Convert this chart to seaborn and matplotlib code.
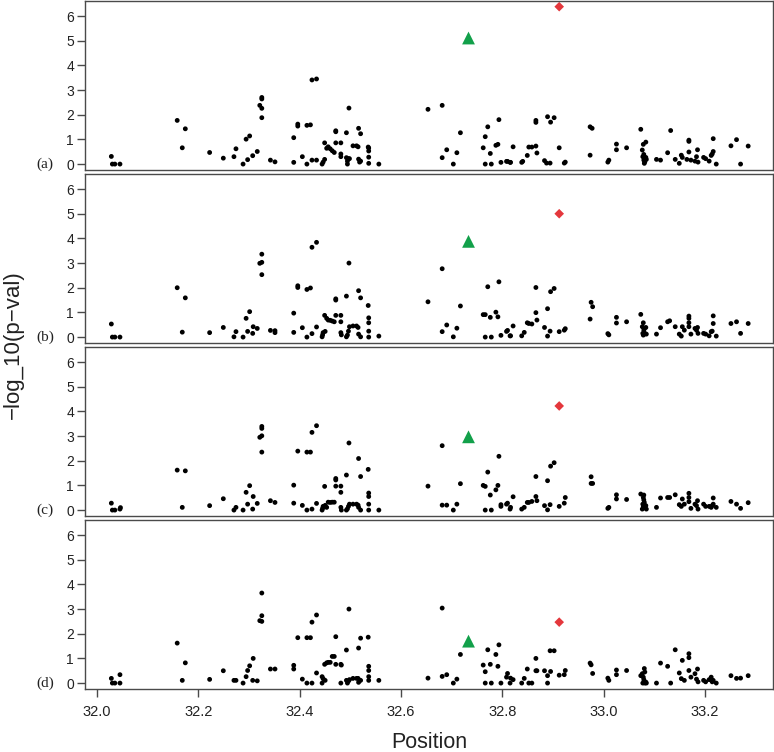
import matplotlib
matplotlib.use("Agg")
import matplotlib.pyplot as plt
import matplotlib.transforms as mtransforms
import seaborn as sns
import pandas as pd

# ---------------- data ----------------
pos_a = [32.028, 32.030, 32.035, 32.045, 32.158, 32.174, 32.168, 32.222, 32.249, 32.270,
         32.274, 32.288, 32.294, 32.301, 32.297, 32.307, 32.316, 32.321, 32.325, 32.325,
         32.325, 32.325, 32.342, 32.351, 32.388, 32.388, 32.396, 32.396, 32.405, 32.414,
         32.414, 32.421, 32.424, 32.424, 32.433, 32.433, 32.444, 32.446, 32.449, 32.449,
         32.453, 32.456, 32.460, 32.464, 32.468, 32.471, 32.471, 32.471, 32.481, 32.481,
         32.481, 32.492, 32.492, 32.494, 32.494, 32.496, 32.498, 32.497, 32.505, 32.512,
         32.515, 32.516, 32.520, 32.516, 32.520, 32.518, 32.535, 32.536, 32.536, 32.536,
         32.536, 32.556,
         32.653, 32.681, 32.681, 32.690, 32.703, 32.710, 32.717, 32.762, 32.766, 32.766,
         32.778, 32.771, 32.776, 32.787, 32.791, 32.793, 32.797, 32.808, 32.810, 32.815,
         32.816, 32.821, 32.838, 32.840, 32.849, 32.852, 32.858, 32.866, 32.866, 32.866,
         32.868, 32.883, 32.887, 32.894, 32.889, 32.895, 32.902, 32.912, 32.922, 32.924,
         32.973, 32.977, 32.973, 33.008, 33.010, 33.025, 33.025, 33.045, 33.073, 33.076,
         33.077, 33.078, 33.079, 33.080, 33.079, 33.081, 33.083, 33.083, 33.084, 33.080,
         33.104, 33.112, 33.126, 33.132, 33.141, 33.149, 33.153, 33.155, 33.164, 33.168,
         33.168, 33.168, 33.172, 33.180, 33.183, 33.185, 33.186, 33.197, 33.201, 33.208,
         33.212, 33.214, 33.216, 33.216, 33.222, 33.251, 33.262, 33.270, 33.285]
val_a = [0.31, 0, 0, 0, 1.77, 1.43, 0.66, 0.47, 0.24, 0.30,
         0.62, 0, 1.01, 1.14, 0.18, 0.34, 0.51, 2.38, 2.70, 2.64,
         2.26, 1.88, 0.16, 0.09, 0.07, 1.07, 1.62, 1.54, 0.30, 0,
         1.57, 1.59, 3.41, 0.16, 3.45, 0.16, 0, 0.08, 0.86, 0.19,
         0.64, 0.70, 0.62, 0.54, 0.47, 1.31, 1.35, 0.86, 0.86, 0.41,
         0.30, 1.27, 0.26, 0.12, 0, 0.22, 0.22, 2.27, 0.74, 0.74,
         0.70, 1.45, 1.23, 0.20, 0.12, 0.08, 0.69, 0.65, 0.53, 0.28,
         0.03, 0,
         2.22, 2.38, 0.26, 0.58, 0, 0.46, 1.27, 0.66, 1.11, 0,
         0, 1.51, 0.43, 0.76, 0.80, 1.80, 0.07, 0.11, 0.11, 0.07,
         0.07, 0.70, 0.07, 0.11, 0.35, 0.69, 0.69, 0.73, 1.77, 1.69,
         0.45, 0.14, 0.04, 0.04, 1.92, 1.70, 1.88, 0.66, 0.04, 0.08,
         1.51, 1.45, 0.36, 0.08, 0.16, 0.81, 0.58, 0.66, 1.41, 0.57,
         0.30, 0.80, 0.39, 0.23, 0.16, 0.09, 0.89, 0.27, 0.19, 0.03,
         0.19, 0.16, 0.46, 1.36, 0.19, 0.03, 0.36, 0.27, 0.19, 0.97,
         0.92, 0.49, 0.16, 0.12, 0.30, 0.58, 0.08, 0.27, 0.22, 0.12,
         0.35, 0.41, 1.03, 0.51, 0, 0.74, 0.99, 0, 0.73]

pos_b = [32.028, 32.030, 32.035, 32.045, 32.158, 32.174, 32.168, 32.222, 32.249, 32.270,
         32.274, 32.288, 32.294, 32.301, 32.297, 32.307, 32.308, 32.316, 32.321, 32.325,
         32.325, 32.325, 32.342, 32.351, 32.351, 32.388, 32.388, 32.396, 32.396, 32.405,
         32.414, 32.414, 32.421, 32.424, 32.424, 32.433, 32.433, 32.444, 32.445, 32.446,
         32.449, 32.450, 32.453, 32.456, 32.460, 32.464, 32.468, 32.471, 32.471, 32.471,
         32.481, 32.481, 32.481, 32.482, 32.492, 32.492, 32.494, 32.496, 32.498, 32.497,
         32.505, 32.512, 32.515, 32.516, 32.520, 32.516, 32.520, 32.535, 32.536, 32.536,
         32.536, 32.536, 32.556,
         32.653, 32.681, 32.681, 32.690, 32.703, 32.710, 32.717, 32.762, 32.766, 32.766,
         32.778, 32.771, 32.776, 32.787, 32.791, 32.793, 32.797, 32.808, 32.810, 32.815,
         32.816, 32.821, 32.838, 32.843, 32.849, 32.852, 32.858, 32.866, 32.866, 32.868,
         32.883, 32.889, 32.889, 32.894, 32.895, 32.902, 32.912, 32.922, 32.924, 32.975,
         32.978, 32.973, 33.008, 33.010, 33.025, 33.025, 33.045, 33.073, 33.076, 33.077,
         33.078, 33.079, 33.080, 33.081, 33.083, 33.084, 33.078, 33.104, 33.112, 33.126,
         33.130, 33.141, 33.149, 33.153, 33.155, 33.159, 33.168, 33.168, 33.168, 33.168,
         33.172, 33.180, 33.183, 33.185, 33.186, 33.197, 33.201, 33.208, 33.212, 33.214,
         33.216, 33.216, 33.222, 33.251, 33.262, 33.270, 33.285]
val_b = [0.53, 0, 0, 0, 2.00, 1.59, 0.20, 0.18, 0.39, 0.01,
         0.22, 0, 0.76, 1.03, 0.23, 0.15, 0.42, 0.35, 2.99, 3.03,
         3.36, 2.53, 0.27, 0.26, 0.18, 0.19, 0.97, 2.08, 2.01, 0.38,
         0, 1.93, 1.99, 3.64, 0.14, 3.84, 0.41, 0.01, 0.09, 0.18,
         0.88, 0.23, 0.76, 0.69, 0.68, 0.65, 0.62, 1.55, 1.50, 0.88,
         0.88, 0.62, 0.18, 0.09, 1.66, 0.01, 0.08, 0.24, 0.42, 3.00,
         0.45, 0.45, 0.39, 1.88, 1.59, 0.12, 0.01, 1.28, 0.78, 0.58,
         0.24, 0, 0.04,
         1.43, 2.77, 0.22, 0.49, 0.01, 0.36, 1.26, 0.91, 0.91, 0,
         0, 2.04, 0.80, 1.01, 0.82, 2.24, 0.07, 0.23, 0.27, 0.05,
         0.05, 0.45, 0.05, 0.19, 0.58, 0.55, 0.53, 2.01, 0.99, 0.69,
         0.39, 0.04, 1.15, 0.24, 1.84, 1.97, 0.22, 0.28, 0.34, 1.41,
         1.23, 0.73, 0.14, 0.09, 0.80, 0.57, 0.62, 0.92, 0.42, 0.15,
         0.58, 0.28, 0.35, 0.15, 0.39, 0.12, 0.08, 0.12, 0.38, 0.62,
         0.66, 0.42, 0.12, 0.04, 0.42, 0.28, 0.85, 0.76, 0.58, 0.42,
         0.12, 0.35, 0.28, 0.39, 0.15, 0.15, 0.12, 0.05, 0.22, 0.24,
         0.86, 0.55, 0.04, 0.55, 0.62, 0.15, 0.55]

pos_c = [32.028, 32.030, 32.035, 32.045, 32.046, 32.158, 32.174, 32.168, 32.222, 32.249,
         32.270, 32.274, 32.288, 32.294, 32.301, 32.297, 32.307, 32.308, 32.316, 32.321,
         32.325, 32.325, 32.325, 32.325, 32.342, 32.351, 32.388, 32.388, 32.396, 32.405,
         32.414, 32.414, 32.421, 32.424, 32.424, 32.433, 32.433, 32.444, 32.445, 32.446,
         32.449, 32.450, 32.453, 32.456, 32.460, 32.464, 32.468, 32.471, 32.471, 32.471,
         32.481, 32.481, 32.481, 32.482, 32.492, 32.492, 32.494, 32.496, 32.498, 32.497,
         32.505, 32.512, 32.515, 32.516, 32.520, 32.516, 32.520, 32.535, 32.536, 32.536,
         32.536, 32.536, 32.556,
         32.653, 32.681, 32.681, 32.690, 32.703, 32.710, 32.717, 32.762, 32.766, 32.766,
         32.778, 32.771, 32.776, 32.787, 32.791, 32.793, 32.797, 32.797, 32.808, 32.810,
         32.815, 32.816, 32.821, 32.838, 32.843, 32.849, 32.852, 32.858, 32.866, 32.866,
         32.868, 32.883, 32.889, 32.889, 32.894, 32.895, 32.902, 32.912, 32.922, 32.924,
         32.975, 32.975, 32.978, 33.008, 33.010, 33.025, 33.025, 33.045, 33.073, 33.076,
         33.077, 33.078, 33.079, 33.080, 33.081, 33.083, 33.084, 33.078, 33.079, 33.104,
         33.112, 33.126, 33.130, 33.141, 33.149, 33.153, 33.155, 33.159, 33.168, 33.168,
         33.168, 33.172, 33.180, 33.183, 33.185, 33.186, 33.197, 33.201, 33.208, 33.212,
         33.214, 33.216, 33.216, 33.222, 33.251, 33.262, 33.270, 33.285]
val_c = [0.28, 0, 0, 0.04, 0.10, 1.62, 1.59, 0.11, 0.18, 0.46,
         0, 0.11, 0, 0.72, 0.99, 0.24, 0.04, 0.55, 0.27, 2.95,
         3.01, 3.39, 3.31, 2.35, 0.38, 0.31, 0.28, 1.01, 2.39, 0.19,
         0, 2.35, 2.35, 3.15, 0.04, 3.42, 0.27, 0, 0.07, 0.15,
         0.96, 0.19, 0.11, 0.32, 0.31, 0.32, 0.32, 1.28, 1.22, 0.97,
         0.97, 0.72, 0.11, 0, 1.42, 0, 0.05, 0.15, 0.24, 2.72,
         0.24, 0.24, 0.20, 2.09, 1.36, 0.11, 0, 1.65, 0.69, 0.55,
         0.24, 0, 0,
         0.97, 2.61, 0.20, 0.20, 0, 0.24, 1.07, 1.00, 0.96, 0,
         0, 1.54, 0.61, 0.82, 1.00, 2.18, 0.15, 0.22, 0.24, 0.28,
         0.04, 0.11, 0.54, 0.04, 0.11, 0.31, 0.31, 0.35, 1.36, 0.55,
         0.38, 0.18, 0.01, 1.19, 0.22, 1.78, 1.92, 0.15, 0.28, 0.51,
         1.35, 1.08, 1.08, 0.07, 0.11, 0.62, 0.45, 0.43, 0.65, 0.04,
         0.24, 0.51, 0.41, 0.31, 0.11, 0.18, 0.04, 0.14, 0.61, 0.11,
         0.49, 0.51, 0.51, 0.62, 0.22, 0.15, 0.45, 0.24, 0.68, 0.51,
         0.34, 0.07, 0.24, 0.18, 0.38, 0.04, 0.24, 0.15, 0.15, 0.11,
         0.18, 0.49, 0.24, 0.11, 0.35, 0.24, 0.07, 0.30]

pos_d = [32.028, 32.030, 32.035, 32.045, 32.045, 32.158, 32.174, 32.168, 32.222, 32.249,
         32.270, 32.274, 32.288, 32.294, 32.297, 32.301, 32.307, 32.308, 32.316, 32.321,
         32.325, 32.325, 32.325, 32.342, 32.351, 32.388, 32.388, 32.396, 32.405, 32.414,
         32.414, 32.421, 32.424, 32.424, 32.433, 32.433, 32.444, 32.444, 32.446, 32.449,
         32.450, 32.453, 32.456, 32.460, 32.464, 32.468, 32.471, 32.471, 32.481, 32.482,
         32.481, 32.492, 32.492, 32.494, 32.496, 32.498, 32.497, 32.505, 32.512, 32.515,
         32.516, 32.520, 32.516, 32.520, 32.535, 32.536, 32.536, 32.536, 32.536, 32.556,
         32.653, 32.681, 32.681, 32.690, 32.703, 32.710, 32.717, 32.762, 32.766, 32.766,
         32.778, 32.771, 32.776, 32.787, 32.791, 32.793, 32.797, 32.808, 32.810, 32.815,
         32.816, 32.821, 32.838, 32.843, 32.849, 32.852, 32.858, 32.866, 32.866, 32.868,
         32.883, 32.889, 32.889, 32.894, 32.902, 32.895, 32.912, 32.922, 32.924, 32.973,
         32.975, 32.978, 33.008, 33.010, 33.025, 33.025, 33.045, 33.073, 33.076, 33.077,
         33.078, 33.079, 33.080, 33.081, 33.083, 33.084, 33.081, 33.104, 33.112, 33.126,
         33.132, 33.141, 33.149, 33.153, 33.155, 33.159, 33.168, 33.168, 33.168, 33.172,
         33.180, 33.183, 33.185, 33.186, 33.197, 33.201, 33.208, 33.212, 33.214, 33.216,
         33.222, 33.251, 33.262, 33.270, 33.285]
val_d = [0.19, 0, 0, 0, 0.34, 1.62, 0.82, 0.11, 0.15, 0.50,
         0.11, 0.11, 0, 0.26, 0.51, 0.70, 0.11, 1.00, 0.09, 2.53,
         2.50, 3.65, 2.73, 0.57, 0.57, 0.72, 0.57, 1.84, 0.16, 0,
         1.84, 1.84, 2.47, 0, 2.76, 0.41, 0, 0.26, 0.18, 0.76,
         0.11, 0.82, 0.84, 0.84, 1.08, 1.08, 1.88, 0.76, 0.76, 0.73,
         0, 1.34, 0.11, 0, 0.08, 0.14, 3.00, 0.19, 0.19, 0.19,
         1.42, 1.82, 0.03, 0.11, 1.86, 0.68, 0.51, 0.26, 0.11, 0.11,
         0.20, 3.04, 0.27, 0.34, 0, 0.16, 1.16, 0.73, 0.46, 0,
         0, 1.35, 0.76, 1.16, 0.68, 1.55, 0, 0.24, 0.39, 0,
         0.20, 0.14, 0, 0.19, 0.57, 0, 0, 1.00, 0.50, 0.50,
         0.50, 0, 0.30, 1.31, 1.31, 0.47, 0.32, 0.34, 0.51, 0.81,
         0.74, 0.39, 0.20, 0.11, 0.53, 0.34, 0.51, 0.30, 0.38, 0,
         0.24, 0.14, 0.59, 0, 0.04, 0, 0.45, 0, 0.81, 0.68,
         0, 1.35, 0.41, 0.18, 0.92, 0.11, 1.19, 1.03, 0.51, 0.24,
         0.38, 0.16, 0.57, 0.05, 0.11, 0.05, 0.14, 0.24, 0.05, 0.11,
         0, 0.30, 0.19, 0.20, 0.30]

panel_labels = ["(a)", "(b)", "(c)", "(d)"]
lead_pos = 32.733                      # green triangle SNP
lead_vals = [5.11, 3.88, 2.97, 1.70]
top_pos = 32.912                       # red diamond SNP
top_vals = [6.38, 5.00, 4.22, 2.47]
x_ticks = [32.0, 32.2, 32.4, 32.6, 32.8, 33.0, 33.2]
x_tick_labels = ["32.0", "32.2", "32.4", "32.6", "32.8", "33.0", "33.2"]
y_ticks = [0, 1, 2, 3, 4, 5, 6]

# ---------------- drawing ----------------
sns.set_style("ticks")
plt.rcParams['font.family'] = ['Liberation Sans', 'DejaVu Sans']

W, H = 774, 752
fig = plt.figure(figsize=(W / 100, H / 100), dpi=100)

all_pos = [pos_a, pos_b, pos_c, pos_d]
all_val = [val_a, val_b, val_c, val_d]
tops = [1, 174, 347, 520]
ph = 169
left_px, right_px = 85, 773
spine_col = "#4a4a4a"

for i in range(4):
    ax = fig.add_axes([left_px / W, 1 - (tops[i] + ph) / H,
                       (right_px - left_px) / W, ph / H])
    df = pd.DataFrame({"Position": all_pos[i], "logp": all_val[i]})
    sns.scatterplot(data=df, x="Position", y="logp", ax=ax, color="black",
                    s=12, edgecolor="none", linewidth=0, legend=False)
    sns.scatterplot(x=[lead_pos], y=[lead_vals[i]], ax=ax, marker="^",
                    color="#12a04a", s=85, edgecolor="none", linewidth=0, legend=False)
    sns.scatterplot(x=[top_pos], y=[top_vals[i]], ax=ax, marker="D",
                    color="#e4373c", s=24, edgecolor="none", linewidth=0, legend=False)
    ax.set_xlim(31.976, 33.334)
    ax.set_ylim(-0.24, 6.61)
    ax.set_yticks(y_ticks)
    ax.set_yticklabels([str(t) for t in y_ticks])
    ax.set_xticks(x_ticks)
    ax.set_xlabel("")
    ax.set_ylabel("")
    for sp in ax.spines.values():
        sp.set_visible(True)
        sp.set_color(spine_col)
        sp.set_linewidth(1.0)
    ax.tick_params(axis="y", direction="out", length=5.5, width=1.0,
                   color=spine_col, labelsize=10, pad=2.5, labelcolor="#222222")
    if i < 3:
        ax.tick_params(axis="x", bottom=False, labelbottom=False)
    else:
        ax.set_xticklabels(x_tick_labels)
        ax.tick_params(axis="x", direction="out", length=5.5, width=1.0,
                       color=spine_col, labelsize=10.5, pad=6, labelcolor="#222222")
    trans = mtransforms.blended_transform_factory(ax.transAxes, ax.transData)
    ax.text(-0.058, 0, panel_labels[i], transform=trans, ha="center", va="center",
            fontsize=11, family=["Liberation Serif", "DejaVu Serif"], color="#222222")

fig.text(13 / W, 1 - 345 / H, "\u2212log_10(p\u2212val)", rotation=90,
         ha="center", va="center", fontsize=16, color="#222222")
fig.text(429 / W, 1 - 743 / H, "Position", ha="center", va="center",
         fontsize=15.5, color="#222222")

fig.savefig("out.png", dpi=100)
